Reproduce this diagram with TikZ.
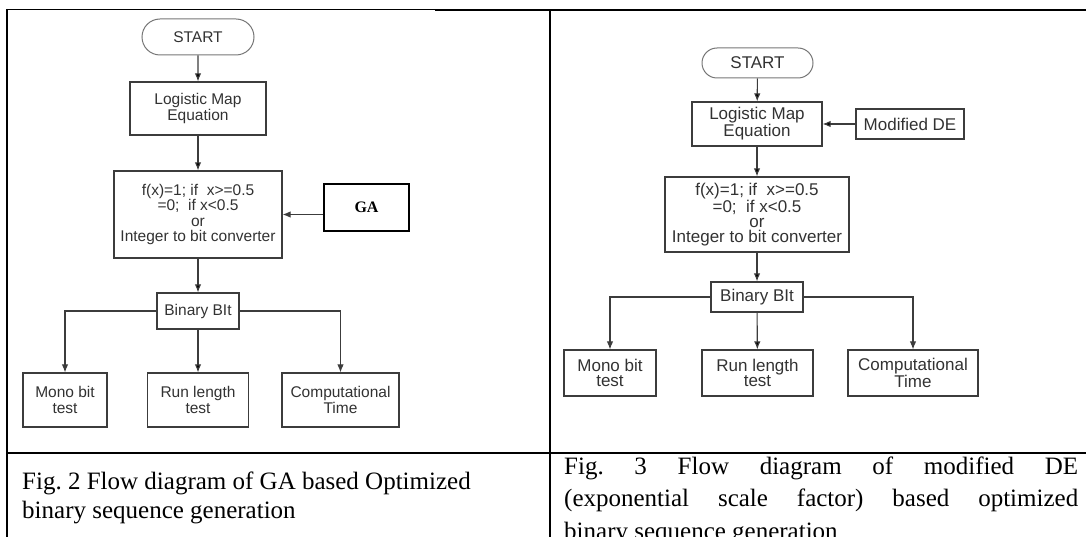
\documentclass[tikz,border=0pt]{standalone}
\usepackage{fontspec}
\setmainfont{Liberation Serif}
\setsansfont{Liberation Sans}
\usetikzlibrary{arrows.meta,shapes.misc}
\definecolor{linegray}{RGB}{60,60,60}
\definecolor{textgray}{RGB}{50,50,50}
\frenchspacing

\begin{document}
\begin{tikzpicture}[x=1pt, y=-1pt, >={Latex[length=8pt,width=6.5pt]},
		box_style/.style={rectangle,draw=linegray,line width=1.2pt,inner sep=0pt,align=center,text=textgray,font=\sffamily\fontsize{15.5}{15.5}\selectfont},
		box_style1/.style={box_style,font=\sffamily\fontsize{17}{15}\selectfont},
		start_style/.style={rounded rectangle,draw=linegray!70,line width=1pt},
		ga_style/.style={rectangle,draw=black,line width=1.4pt,inner sep=0pt,font=\bfseries\fontsize{16}{16}\selectfont},
		edge_style/.style={draw=linegray,line width=1.1pt,->},
		cap_style/.style={anchor=base west,inner sep=0pt,font=\fontsize{25}{28}\selectfont},
		rule_style/.style={draw=black,line width=1.6pt}]

		\clip (0,0) rectangle (1086,537);

		% table lines
		\draw[black,line width=0.8pt] (7,9.5) -- (435,9.5);
		\draw[rule_style] (435,10) -- (1086,10);
		\draw[rule_style] (7,9) -- (7,537);
		\draw[rule_style,line width=2pt] (550,10) -- (550,537);
		\draw[rule_style] (7,453) -- (1086,453);

		% left diagram (GA)
		\node[box_style,start_style,minimum width=112,minimum height=36] (startL) at (198,37) {START};
		\node[box_style,minimum width=136,minimum height=53] (logL) at (198,108.5) {Logistic Map\\Equation};
		\node[box_style,minimum width=168,minimum height=87] (fxL) at (198,214.5) {f(x)=1; if\ \ x>=0.5\\=0;\ \ if x<0.5\hspace{2.6em}\\or\\Integer to bit converter};
		\node[ga_style,minimum width=85,minimum height=47] (gaL) at (366.5,207.5) {GA};
		\node[box_style,minimum width=82,minimum height=36] (bbL) at (198,311) {Binary BIt};
		\node[box_style,minimum width=84,minimum height=54] (monoL) at (65,400) {Mono bit\\test};
		\node[box_style,minimum width=101,minimum height=54] (runL) at (198,400) {Run length\\test};
		\node[box_style,minimum width=117,minimum height=54] (compL) at (340.5,400) {Computational\\Time};

		\draw[edge_style]  (startL) edge node{} (logL);
		\draw[edge_style]  (logL) edge node{} (fxL);
		\draw[edge_style]  (gaL.west |- fxL.east) -- (fxL.east);
		\draw[edge_style]  (fxL) edge node{} (bbL);
		\draw[edge_style]  (bbL.west) -| (monoL.north);
		\draw[edge_style]  (bbL) edge node{} (runL);
		\draw[edge_style]  (bbL.east) -| (compL.north);

		% right diagram (modified DE)
		\node[box_style1,start_style,minimum width=111,minimum height=30] (startR) at (757.5,63) {START};
		\node[box_style1,minimum width=130,minimum height=44] (logR) at (757,124) {Logistic Map\\Equation};
		\node[box_style1,minimum width=108,minimum height=30] (deR) at (910,124) {Modified DE};
		\node[box_style1,minimum width=184,minimum height=75] (fxR) at (757,214.5) {f(x)=1; if\ \ x>=0.5\\=0;\ \ if x<0.5\hspace{1.6em}\\or\\Integer to bit converter};
		\node[box_style1,minimum width=92,minimum height=30] (bbR) at (757,297) {Binary BIt};
		\node[box_style1,minimum width=92,minimum height=46] (monoR) at (610,373) {Mono bit\\test};
		\node[box_style1,minimum width=111,minimum height=46] (runR) at (757.5,373) {Run length\\test};
		\node[box_style1,minimum width=130,minimum height=46] (compR) at (913,373) {Computational\\Time};

		\draw[edge_style]  (startR) edge node{} (logR);
		\draw[edge_style]  (deR) edge node{} (logR);
		\draw[edge_style]  (logR) edge node{} (fxR);
		\draw[edge_style]  (fxR) edge node{} (bbR);
		\draw[edge_style]  (bbR.west) -| (monoR.north);
		\draw[edge_style]  (bbR) edge node{} (runR);
		\draw[edge_style]  (bbR.east) -| (compR.north);

		% captions
		\node[cap_style] (capL1) at (22,489) {Fig. 2 Flow diagram of GA based Optimized};
		\node[cap_style] (capL2) at (22,518) {binary sequence generation};
		\node[cap_style] (capR1) at (564,474) {\makebox[514pt][s]{Fig. 3 Flow diagram of modified DE}};
		\node[cap_style] (capR2) at (564,506) {\makebox[514pt][s]{(exponential scale factor) based optimized}};
		\node[cap_style] (capR3) at (564,539) {binary sequence generation};
		\end{tikzpicture}
\end{document}
